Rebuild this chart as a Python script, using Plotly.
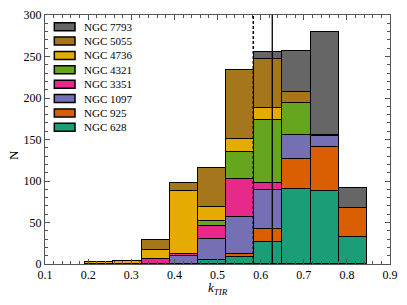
import plotly.graph_objects as go

bin_edges = [0.193, 0.258, 0.324, 0.389, 0.454, 0.520, 0.585, 0.650, 0.716, 0.781, 0.846]

galaxies = ["NGC 628", "NGC 925", "NGC 1097", "NGC 3351", "NGC 4321", "NGC 4736", "NGC 5055", "NGC 7793"]
colors = ["#1B9E77", "#D95F02", "#7570B3", "#E7298A", "#66A61E", "#E6AB02", "#A6761D", "#666666"]

ngc628 = [0, 0, 0, 0, 5, 9, 27, 90, 88, 33]
ngc925 = [0, 0, 0, 0, 0, 3, 15, 36, 53, 34]
ngc1097 = [0, 0, 0, 10, 25, 45, 47, 29, 13, 0]
ngc3351 = [0, 0, 6, 2, 16, 46, 8, 0, 0, 0]
ngc4321 = [0, 0, 0, 0, 6, 32, 76, 39, 2, 0]
ngc4736 = [2, 4, 11, 76, 17, 16, 15, 0, 0, 0]
ngc5055 = [0, 0, 12, 10, 47, 83, 59, 13, 0, 0]
ngc7793 = [0, 0, 0, 0, 0, 0, 8, 50, 124, 25]

series = [ngc628, ngc925, ngc1097, ngc3351, ngc4321, ngc4736, ngc5055, ngc7793]

k_dashed = 0.583
k_solid = 0.627

centers = [(a + b) / 2 for a, b in zip(bin_edges[:-1], bin_edges[1:])]
widths = [b - a for a, b in zip(bin_edges[:-1], bin_edges[1:])]

font_family = "Liberation Serif, DejaVu Serif, serif"

fig = go.Figure()
for name, col, vals in zip(galaxies, colors, series):
    fig.add_trace(go.Bar(
        x=centers, y=vals, width=widths, name=name, showlegend=False,
        marker=dict(color=col, line=dict(color="black", width=1.5)),
    ))

fig.add_shape(type="line", x0=k_dashed, x1=k_dashed, y0=0, y1=1, xref="x", yref="paper",
              line=dict(color="black", width=1.5, dash="3px,2px"))
fig.add_shape(type="line", x0=k_solid, x1=k_solid, y0=0, y1=1, xref="x", yref="paper",
              line=dict(color="black", width=1.3))

# manual legend (top entry = last stacked series)
leg_top = 0.953
leg_step = 0.0577
sw_x0, sw_x1 = 0.027, 0.087
sw_h = 0.032
for i, (name, col) in enumerate(zip(reversed(galaxies), reversed(colors))):
    yc = leg_top - i * leg_step
    fig.add_shape(type="rect", xref="paper", yref="paper",
                  x0=sw_x0, x1=sw_x1, y0=yc - sw_h / 2, y1=yc + sw_h / 2,
                  fillcolor=col, line=dict(color="black", width=1.5))
    fig.add_annotation(xref="paper", yref="paper", x=0.108, y=yc, text=name,
                       showarrow=False, xanchor="left", yanchor="middle",
                       font=dict(family=font_family, size=11, color="black"))

# axis titles
fig.add_annotation(xref="paper", yref="paper", x=0.5, y=-0.1, text="<i>k</i><sub><i>TIR</i></sub>",
                   showarrow=False, xanchor="center", yanchor="middle",
                   font=dict(family=font_family, size=13, color="black"))
fig.add_annotation(xref="paper", yref="paper", x=-0.09, y=0.438, text="N", textangle=-90,
                   showarrow=False, xanchor="center", yanchor="middle",
                   font=dict(family=font_family, size=13, color="black"))

axis_common = dict(
    showline=True, linecolor="#555555", linewidth=1, mirror="ticks",
    ticks="inside", ticklen=5, tickcolor="#555555", tickwidth=1,
    showgrid=False, zeroline=False, automargin=False,
    tickfont=dict(family=font_family, size=12, color="black"),
)

fig.update_layout(
    template="none",
    width=407, height=305,
    margin=dict(l=45, r=17, t=15, b=41),
    paper_bgcolor="white", plot_bgcolor="white",
    barmode="stack", bargap=0,
    showlegend=False,
    xaxis=dict(
        range=[0.1, 0.9], dtick=0.1, tick0=0.1,
        minor=dict(dtick=0.02, ticks="inside", ticklen=3, tickcolor="#555555"),
        **axis_common,
    ),
    yaxis=dict(
        range=[0, 300], dtick=50,
        minor=dict(dtick=10, ticks="inside", ticklen=3, tickcolor="#555555"),
        **axis_common,
    ),
)

fig.write_html("out.html", config={"displayModeBar": False},
               post_script="document.body.style.margin='0';document.body.style.overflow='hidden';")
